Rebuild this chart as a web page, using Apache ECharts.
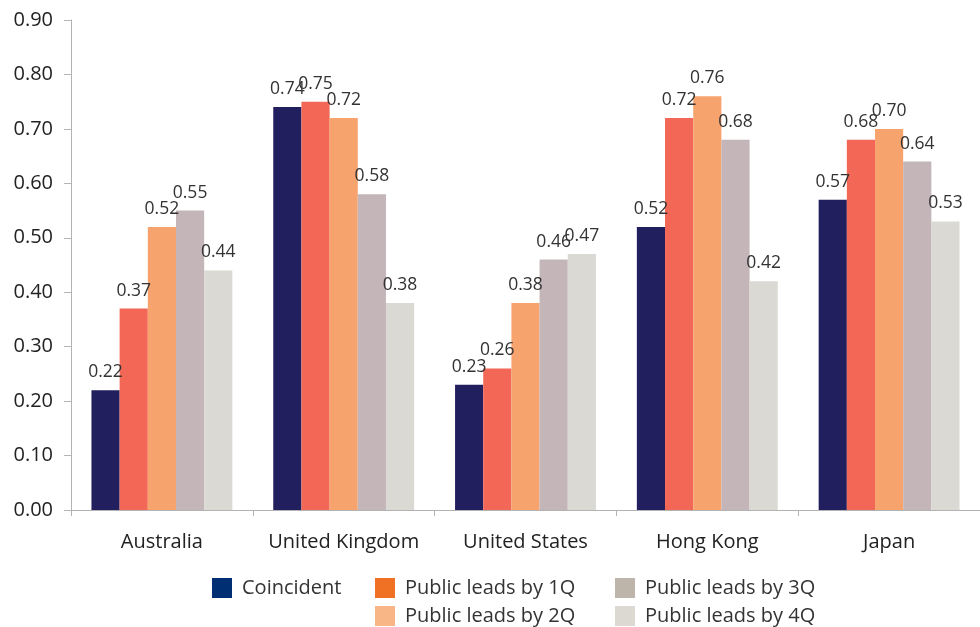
<!DOCTYPE html>
<html>
<head>
<meta charset="utf-8">
<script src="https://cdn.jsdelivr.net/npm/echarts@6/dist/echarts.min.js"></script>
<style>
  html, body { margin: 0; padding: 0; background: #fff; }
  #chart { width: 980px; height: 627px; }
</style>
</head>
<body>
<div id="chart"></div>
<script>
// Markets along the x axis
const categories = ['Australia', 'United Kingdom', 'United States', 'Hong Kong', 'Japan'];

// Correlation by lead of the public market
const coincident = [0.22, 0.74, 0.23, 0.52, 0.57];
const leads1Q = [0.37, 0.75, 0.26, 0.72, 0.68];
const leads2Q = [0.52, 0.72, 0.38, 0.76, 0.70];
const leads3Q = [0.55, 0.58, 0.46, 0.68, 0.64];
const leads4Q = [0.44, 0.38, 0.47, 0.42, 0.53];

const seriesNames = ['Coincident', 'Public leads by 1Q', 'Public leads by 2Q', 'Public leads by 3Q', 'Public leads by 4Q'];
const yTicks = ['0.00', '0.10', '0.20', '0.30', '0.40', '0.50', '0.60', '0.70', '0.80', '0.90'];

const barColors = ['#221f5e', '#f26755', '#f7a36e', '#c3b5b8', '#dad9d4'];
const legendColors = ['#003073', '#f07024', '#f8b586', '#bdb5aa', '#dcd8d2'];

const FONT = '"Open Sans", "Noto Sans", sans-serif';
const values = [coincident, leads1Q, leads2Q, leads3Q, leads4Q];

const chart = echarts.init(document.getElementById('chart'));

function legendItem(i) {
  return { name: seriesNames[i], itemStyle: { color: legendColors[i] } };
}
const legendCommon = {
  orient: 'vertical',
  itemWidth: 20,
  itemHeight: 20,
  itemGap: 8,
  icon: 'rect',
  selectedMode: false,
  textStyle: { fontFamily: FONT, fontSize: 20, color: '#333', padding: [0, 0, 0, 5] },
  padding: 0
};

chart.setOption({
  animation: false,
  textStyle: { fontFamily: FONT },
  grid: { left: 71, top: 20, width: 920, height: 490, containLabel: false },
  legend: [
    Object.assign({ left: 212, top: 578, data: [legendItem(0)] }, legendCommon),
    Object.assign({ left: 375, top: 578, data: [legendItem(1), legendItem(2)] }, legendCommon),
    Object.assign({ left: 615, top: 578, data: [legendItem(3), legendItem(4)] }, legendCommon)
  ],
  xAxis: {
    type: 'category',
    data: categories,
    axisLine: { lineStyle: { color: '#b3b3b3', width: 1 } },
    axisTick: { show: true, interval: 0, length: 6, lineStyle: { color: '#b3b3b3' } },
    axisLabel: { interval: 0, fontFamily: FONT, fontSize: 20, color: '#222', margin: 22, hideOverlap: false }
  },
  yAxis: {
    type: 'value',
    min: 0,
    max: 0.9,
    interval: 0.1,
    axisLine: { show: true, lineStyle: { color: '#b3b3b3', width: 1 } },
    axisTick: { show: true, length: 7, lineStyle: { color: '#b3b3b3' } },
    splitLine: { show: false },
    axisLabel: {
      fontFamily: FONT, fontSize: 20, color: '#222', margin: 18,
      formatter: function (v) { return yTicks[Math.round(v * 10)]; }
    }
  },
  series: values.map(function (arr, i) {
    return {
      name: seriesNames[i],
      type: 'bar',
      data: arr,
      barGap: '0%',
      barCategoryGap: '22.5%',
      itemStyle: { color: barColors[i] },
      label: {
        show: true,
        position: 'top',
        distance: 9,
        fontFamily: FONT,
        fontSize: 17.5,
        color: '#333',
        formatter: function (p) { return p.value.toFixed(2); }
      }
    };
  })
});
</script>
</body>
</html>
